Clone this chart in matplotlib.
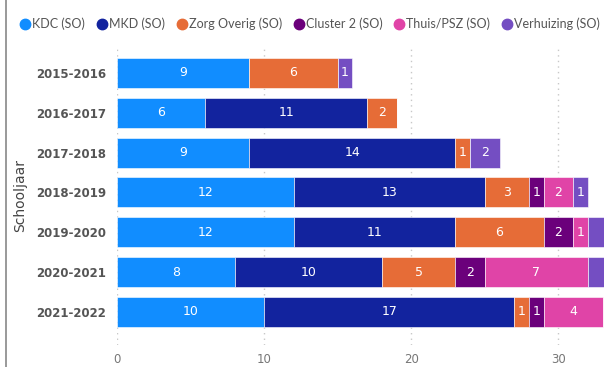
import numpy as np
import matplotlib.pyplot as plt
from matplotlib.lines import Line2D

years = ['2015-2016', '2016-2017', '2017-2018', '2018-2019', '2019-2020', '2020-2021', '2021-2022']
series = ['KDC (SO)', 'MKD (SO)', 'Zorg Overig (SO)', 'Cluster 2 (SO)', 'Thuis/PSZ (SO)', 'Verhuizing (SO)']
kdc = [9, 6, 9, 12, 12, 8, 10]
mkd = [0, 11, 14, 13, 11, 10, 17]
zorg = [6, 2, 1, 3, 6, 5, 1]
cluster2 = [0, 0, 0, 1, 2, 2, 1]
thuis = [0, 0, 0, 2, 1, 7, 4]
verhuizing = [1, 0, 2, 1, 2, 2, 0]
colors = ['#118DFF', '#12239E', '#E66C37', '#6B007B', '#E044A7', '#744EC2']

data = [kdc, mkd, zorg, cluster2, thuis, verhuizing]
xmax = 33.1

fig = plt.figure(figsize=(6.04, 3.67), dpi=100)
ax = fig.add_axes([117 / 604, 1 - 345 / 367, 1 - 117 / 604, 300 / 367])

y = np.arange(len(years))
left = np.zeros(len(years))
for vals, col in zip(data, colors):
    vals = np.array(vals, dtype=float)
    ax.barh(y, vals, left=left, height=0.75, color=col, edgecolor='#ffffff',
            linewidth=0.4, zorder=2)
    for yi, (l, v) in enumerate(zip(left, vals)):
        if v > 0 and l + v <= xmax:
            ax.text(l + v / 2, yi, str(int(v)), ha='center', va='center',
                    color='white', fontsize=9, zorder=3)
    left += vals

ax.set_xlim(0, xmax)
ax.set_ylim(6.83, -0.7)
ax.set_yticks(y)
ax.set_yticklabels(years, fontsize=8.5, fontweight='bold', color='#555555')
ax.set_xticks([0, 10, 20, 30])
ax.tick_params(axis='x', labelsize=8.5, colors='#777777', length=0, pad=6)
ax.tick_params(axis='y', length=0, pad=8)
ax.grid(axis='x', linestyle=(0, (1, 3)), color='#C8C8C8', linewidth=1, zorder=0)
for s in ax.spines.values():
    s.set_visible(False)
ax.set_ylabel('Schooljaar', fontsize=10, color='#444444', labelpad=6)

handles = [Line2D([], [], marker='o', linestyle='', markersize=7.5, color=c) for c in colors]
fig.legend(handles, series, loc='upper left', bbox_to_anchor=(0.012, 0.98), ncol=6,
           frameon=False, prop={'family': 'Lato', 'size': 9}, handletextpad=-0.1,
           columnspacing=0.7, handlelength=1.3, labelcolor='#555555', borderaxespad=0.4)

fig.add_artist(Line2D([6 / 604, 6 / 604], [0, 1], color='#888888', linewidth=1.2))

fig.savefig('out.png', dpi=100)
